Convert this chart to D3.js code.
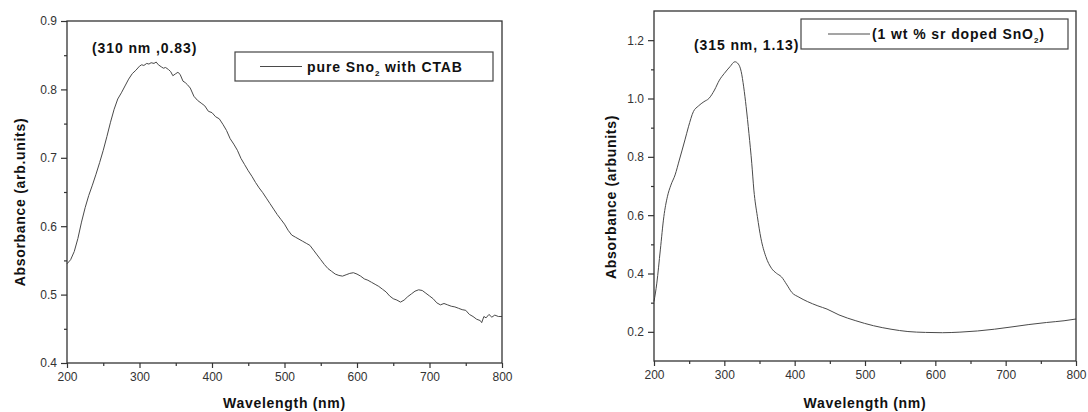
<!DOCTYPE html>
<html>
<head>
<meta charset="utf-8">
<script src="https://cdn.jsdelivr.net/npm/d3@7"></script>
<style>
  body { margin: 0; background: #fff; }
  svg { display: block; font-family: Arial, "Liberation Sans", sans-serif; }
  .tick-label { font-size: 12px; fill: #333; }
  .axis-title { font-size: 14px; font-weight: bold; fill: #111; letter-spacing: 0.7px; }
  .note { font-size: 14px; font-weight: bold; fill: #111; letter-spacing: 0.9px; }
</style>
</head>
<body>
<svg id="chart" width="1088" height="412"></svg>
<script>
// pure SnO2 with CTAB (wavelength nm, absorbance)
const pureWavelength = [200,205,210,215,220,225,230,235,240,245,250,255,260,265,270,275,280,285,290,295,
  300,303,306,310,313,316,320,323,326,330,333,336,340,343,346,350,353,356,360,363,366,370,375,380,385,390,395,
  400,405,410,415,420,425,430,435,440,445,450,455,460,465,470,475,480,485,490,495,500,505,510,515,520,525,530,
  535,540,545,550,555,560,565,570,575,580,585,590,595,600,605,610,615,620,625,630,635,640,645,650,655,660,665,
  670,675,680,685,690,695,700,705,710,715,720,725,730,735,740,745,750,755,760,765,770,772,775,778,782,786,790,795,800];
const pureAbsorbance = [0.545,0.551,0.563,0.582,0.606,0.627,0.645,0.660,0.676,0.693,0.711,0.731,0.752,0.771,0.786,0.795,0.805,0.815,0.823,0.828,
  0.834,0.836,0.835,0.838,0.837,0.839,0.838,0.840,0.836,0.833,0.831,0.832,0.829,0.826,0.820,0.823,0.825,0.822,0.812,0.810,0.807,0.802,0.790,0.784,0.780,0.776,0.768,
  0.766,0.760,0.757,0.749,0.740,0.728,0.720,0.711,0.699,0.690,0.681,0.673,0.664,0.656,0.649,0.641,0.633,0.625,0.617,0.610,0.603,0.594,0.587,0.584,0.581,0.578,0.575,
  0.572,0.565,0.558,0.551,0.544,0.538,0.534,0.530,0.528,0.527,0.529,0.531,0.532,0.530,0.527,0.523,0.521,0.518,0.515,0.512,0.508,0.504,0.498,0.494,0.492,0.489,0.492,
  0.497,0.501,0.505,0.507,0.506,0.502,0.498,0.494,0.488,0.485,0.487,0.485,0.483,0.482,0.480,0.478,0.477,0.471,0.468,0.464,0.462,0.459,0.468,0.466,0.471,0.467,0.470,0.468,0.468];

// 1 wt % Sr doped SnO2
const dopedWavelength = [200,204,209,214,219,224,230,236,244,249,256,263,271,278,286,293,300,308,315,320,324,327.5,331,335,339,342,347,352,
  359,367,374,381,389,396,406,418,433,446,463,487,512,537,561,586,610,635,660,684,709,733,758,783,800];
const dopedAbsorbance = [0.304,0.367,0.481,0.595,0.663,0.703,0.738,0.789,0.858,0.903,0.955,0.974,0.989,1.000,1.029,1.063,1.086,1.109,1.126,1.118,1.092,1.040,0.972,0.880,0.778,0.686,0.595,0.521,
  0.458,0.418,0.401,0.389,0.361,0.335,0.319,0.304,0.289,0.278,0.258,0.238,0.221,0.209,0.201,0.198,0.197,0.199,0.203,0.209,0.217,0.225,0.232,0.238,0.244];

const xTicks = [200, 300, 400, 500, 600, 700, 800];
const pureYTicks = [0.4, 0.5, 0.6, 0.7, 0.8, 0.9];
const dopedYTicks = [0.2, 0.4, 0.6, 0.8, 1.0, 1.2];

const svg = d3.select("#chart");

// Draws one framed panel with its curve, legend and peak note
function drawPanel(p) {
    const x = d3.scaleLinear().domain([200, 800]).range([p.left, p.right]);
    const y = d3.scaleLinear().domain(p.yDomain).range([p.bottom, p.top]);
    const g = svg.append("g");

    // Curve
    const pts = p.xs.map((v, i) => [v, p.ys[i]]);
    g.append("path")
        .datum(pts)
        .attr("fill", "none")
        .attr("stroke", "#4a4a4a")
        .attr("stroke-width", 1)
        .attr("d", d3.line().x(d => x(d[0])).y(d => y(d[1])).curve(p.curve));

    // Frame
    g.append("rect")
        .attr("x", p.left).attr("y", p.top)
        .attr("width", p.right - p.left).attr("height", p.bottom - p.top)
        .attr("fill", "none").attr("stroke", "#333").attr("stroke-width", 1.3);

    // Bottom axis: major + minor ticks
    g.append("g").attr("transform", `translate(0,${p.bottom})`)
        .call(d3.axisBottom(x).tickValues(xTicks).tickSize(5).tickPadding(4).tickFormat(d3.format("d")));
    g.append("g").attr("transform", `translate(0,${p.bottom})`)
        .call(d3.axisBottom(x).tickValues(d3.range(250, 800, 100)).tickSize(3).tickFormat(""));

    // Left axis
    g.append("g").attr("transform", `translate(${p.left},0)`)
        .call(d3.axisLeft(y).tickValues(p.yTicks).tickSize(6).tickPadding(4).tickFormat(d3.format(".1f")));
    g.append("g").attr("transform", `translate(${p.left},0)`)
        .call(d3.axisLeft(y).tickValues(p.yMinor).tickSize(3).tickFormat(""));

    g.selectAll(".domain").remove();
    g.selectAll(".tick line").attr("stroke", "#333").attr("stroke-width", 1.2);
    g.selectAll(".tick text").attr("class", "tick-label").attr("font-family", null).attr("font-size", null);

    // Axis titles
    g.append("text").attr("class", "axis-title")
        .attr("x", (p.left + p.right) / 2).attr("y", 408)
        .attr("text-anchor", "middle").text("Wavelength (nm)");
    g.append("text").attr("class", "axis-title")
        .attr("transform", `translate(${p.yTitleX},${p.yTitleY}) rotate(-90)`)
        .attr("text-anchor", "middle").text(p.yTitle);

    // Legend box
    const lg = p.legend;
    g.append("rect").attr("x", lg.x).attr("y", lg.y).attr("width", lg.w).attr("height", lg.h)
        .attr("fill", "#fff").attr("stroke", "#444").attr("stroke-width", 1.2);
    g.append("line").attr("x1", lg.lineX1).attr("x2", lg.lineX2)
        .attr("y1", lg.y + lg.h / 2).attr("y2", lg.y + lg.h / 2)
        .attr("stroke", "#4a4a4a").attr("stroke-width", 1);
    const t = g.append("text").attr("class", "note").attr("x", lg.textX).attr("y", lg.y + lg.h / 2 + 5);
    t.append("tspan").text(lg.before);
    t.append("tspan").attr("dy", 4).attr("font-size", "8px").text("2");
    t.append("tspan").attr("dy", -4).text(lg.after);

    // Peak note
    g.append("text").attr("class", "note")
        .attr("x", p.noteX).attr("y", p.noteY).text(p.note);
}

drawPanel({
    left: 67, right: 502, top: 21, bottom: 363,
    yDomain: [0.4, 0.9], yTicks: pureYTicks, yMinor: [0.45, 0.55, 0.65, 0.75, 0.85],
    xs: pureWavelength, ys: pureAbsorbance, curve: d3.curveLinear,
    yTitle: "Absorbance (arb.units)", yTitleX: 25, yTitleY: 202,
    legend: { x: 235, y: 52, w: 258, h: 29, lineX1: 260, lineX2: 302, textX: 307,
              before: "pure Sno", after: " with CTAB" },
    note: "(310 nm ,0.83)", noteX: 92, noteY: 53
});

drawPanel({
    left: 654, right: 1076, top: 11, bottom: 361,
    yDomain: [0.1, 1.3], yTicks: dopedYTicks, yMinor: [0.3, 0.5, 0.7, 0.9, 1.1],
    xs: dopedWavelength, ys: dopedAbsorbance, curve: d3.curveMonotoneX,
    yTitle: "Absorbance (arbunits)", yTitleX: 616, yTitleY: 197,
    legend: { x: 801, y: 19, w: 267, h: 30, lineX1: 828, lineX2: 870, textX: 872,
              before: "(1 wt % sr doped SnO", after: ")" },
    note: "(315 nm, 1.13)", noteX: 694, noteY: 50
});
</script>
</body>
</html>
